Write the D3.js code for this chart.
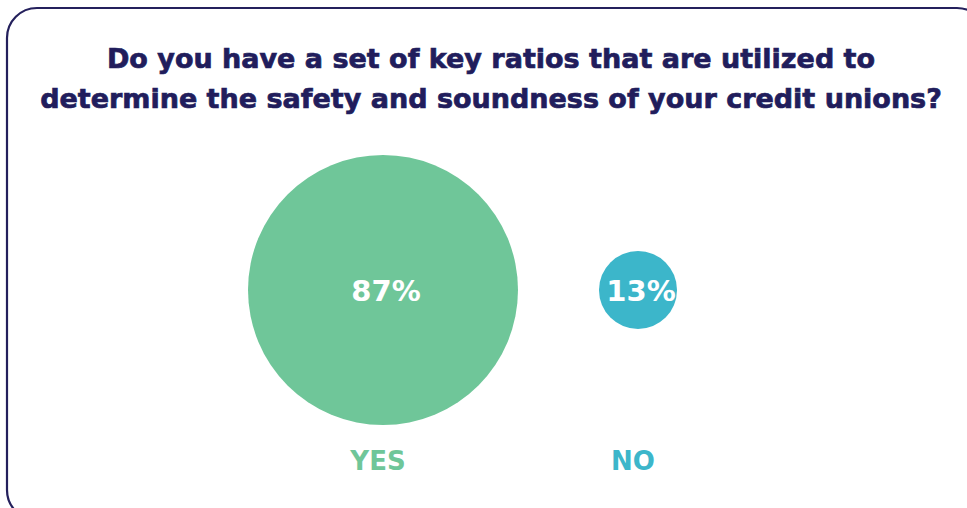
<!DOCTYPE html>
<meta charset="utf-8">
<style>
body { margin: 0; background: #fff; }
text { font-family: "DejaVu Sans", sans-serif; }
</style>
<svg width="967" height="508"></svg>
<script src="https://d3js.org/d3.v7.min.js"></script>
<script>
var titleLines = ["Do you have a set of key ratios that are utilized to",
                  "determine the safety and soundness of your credit unions?"];
var answers = ["YES", "NO"];
var shares = [87, 13];
var colors = ["#6fc699", "#3cb6ca"];

var svg = d3.select("svg"),
    width = +svg.attr("width"),
    height = +svg.attr("height");

// frame
svg.append("rect")
    .attr("x", 7).attr("y", 8)
    .attr("width", 980).attr("height", 512)
    .attr("rx", 30).attr("ry", 30)
    .attr("fill", "none")
    .attr("stroke", "#24205c")
    .attr("stroke-width", 2.2);

svg.append("g").selectAll("text")
    .data(titleLines)
    .enter().append("text")
    .attr("x", 491)
    .attr("y", function(d, i) { return 68 + i * 40; })
    .attr("text-anchor", "middle")
    .attr("font-size", 27)
    .attr("font-weight", "bold")
    .attr("fill", "#211d5c")
    .attr("stroke", "#211d5c")
    .attr("stroke-width", 0.7)
    .text(function(d) { return d; });

var x = d3.scalePoint().domain(answers).range([383, 638]);
var r = d3.scalePow().exponent(0.653).domain([0, 87]).range([0, 135]);
var cy = 290;

var g = svg.append("g").selectAll("g")
    .data(answers)
    .enter().append("g");

g.append("circle")
    .attr("cx", function(d) { return x(d); })
    .attr("cy", cy)
    .attr("r", function(d, i) { return r(shares[i]); })
    .attr("fill", function(d, i) { return colors[i]; });

g.append("text")
    .attr("x", function(d) { return x(d) + 3; })
    .attr("y", cy + 11)
    .attr("text-anchor", "middle")
    .attr("font-size", 29)
    .attr("font-weight", "bold")
    .attr("fill", "#fff")
    .text(function(d, i) { return shares[i] + "%"; });

g.append("text")
    .attr("x", function(d) { return x(d) - 5; })
    .attr("y", 470)
    .attr("text-anchor", "middle")
    .attr("font-size", 26)
    .attr("font-weight", 600)
    .attr("fill", function(d, i) { return colors[i]; })
    .text(function(d) { return d; });
</script>
